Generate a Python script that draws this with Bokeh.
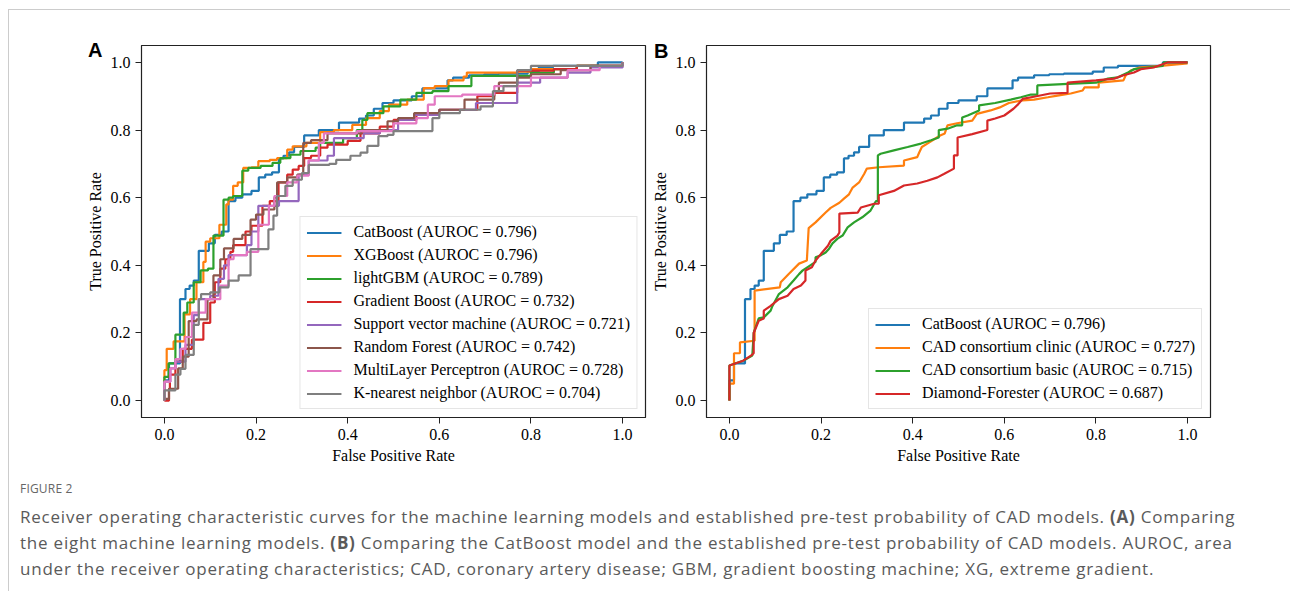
from bokeh.plotting import figure
from bokeh.models import Range1d, FixedTicker, PrintfTickFormatter, Div
from bokeh.layouts import row, column
from bokeh.embed import file_html
from bokeh.resources import INLINE

# ---------------- data: panel A (ROC knots: at fpr f the curve rises to tpr t) ----------------
cat_fpr = [0, 0, 0.01, 0.034, 0.046, 0.055, 0.064, 0.075, 0.097, 0.11, 0.125, 0.14, 0.155, 0.17, 0.19, 0.206,
           0.22, 0.235, 0.25, 0.26, 0.272, 0.283, 0.305, 0.337, 0.381, 0.425, 0.44, 0.457, 0.476, 0.50, 0.54,
           0.563, 0.618, 0.63, 0.665, 0.698, 0.73, 0.793, 0.817, 0.848, 0.946, 1.0]
cat_tpr = [0, 0.06, 0.11, 0.30, 0.33, 0.34, 0.355, 0.443, 0.465, 0.49, 0.50, 0.59, 0.60, 0.61, 0.62, 0.66,
           0.668, 0.675, 0.716, 0.724, 0.734, 0.75, 0.784, 0.80, 0.822, 0.834, 0.843, 0.863, 0.88, 0.888, 0.90,
           0.923, 0.947, 0.955, 0.962, 0.965, 0.967, 0.973, 0.985, 0.99, 1.0, 1.0]

xgb_fpr = [0, 0, 0.005, 0.02, 0.044, 0.056, 0.07, 0.085, 0.09, 0.10, 0.12, 0.135, 0.14, 0.15, 0.16, 0.172,
           0.19, 0.205, 0.23, 0.246, 0.268, 0.28, 0.31, 0.34, 0.37, 0.41, 0.44, 0.47, 0.49, 0.53, 0.566, 0.59,
           0.62, 0.653, 0.66, 0.77, 0.80, 0.90, 1.0]
xgb_tpr = [0, 0.09, 0.153, 0.175, 0.255, 0.30, 0.35, 0.41, 0.47, 0.48, 0.52, 0.58, 0.594, 0.635, 0.645, 0.688,
           0.69, 0.708, 0.712, 0.717, 0.742, 0.752, 0.762, 0.794, 0.80, 0.815, 0.835, 0.856, 0.875, 0.89, 0.924,
           0.93, 0.947, 0.958, 0.97, 0.973, 0.98, 0.99, 1.0]

lgbm_fpr = [0, 0, 0.009, 0.024, 0.042, 0.05, 0.064, 0.079, 0.095, 0.107, 0.129, 0.14, 0.15, 0.17, 0.183, 0.21,
            0.236, 0.253, 0.275, 0.297, 0.33, 0.34, 0.39, 0.42, 0.432, 0.443, 0.478, 0.515, 0.55, 0.585, 0.62,
            0.67, 0.80, 0.85, 0.90, 1.0]
lgbm_tpr = [0, 0.07, 0.11, 0.195, 0.26, 0.29, 0.35, 0.385, 0.39, 0.488, 0.594, 0.60, 0.605, 0.68, 0.688, 0.694,
            0.703, 0.717, 0.727, 0.738, 0.748, 0.762, 0.776, 0.80, 0.83, 0.85, 0.87, 0.89, 0.91, 0.915, 0.93,
            0.96, 0.97, 0.98, 0.99, 1.0]

gb_fpr = [0, 0.01, 0.012, 0.024, 0.04, 0.06, 0.085, 0.10, 0.11, 0.122, 0.133, 0.144, 0.15, 0.177, 0.19, 0.214,
          0.23, 0.249, 0.268, 0.28, 0.293, 0.305, 0.32, 0.34, 0.356, 0.40, 0.428, 0.47, 0.50, 0.55, 0.60, 0.683,
          0.72, 0.77, 0.85, 0.90, 1.0]
gb_tpr = [0, 0.035, 0.077, 0.115, 0.153, 0.18, 0.23, 0.29, 0.35, 0.39, 0.418, 0.44, 0.46, 0.50, 0.517, 0.576,
          0.59, 0.645, 0.668, 0.683, 0.694, 0.717, 0.724, 0.748, 0.757, 0.768, 0.79, 0.81, 0.83, 0.85, 0.86, 0.90,
          0.91, 0.976, 0.98, 0.99, 1.0]

svm_fpr = [0, 0, 0.013, 0.024, 0.046, 0.064, 0.075, 0.10, 0.118, 0.13, 0.14, 0.18, 0.19, 0.205, 0.25, 0.293,
           0.315, 0.356, 0.37, 0.435, 0.47, 0.51, 0.545, 0.60, 0.68, 0.77, 0.82, 0.88, 0.93, 1.0]
svm_tpr = [0, 0.056, 0.095, 0.115, 0.165, 0.253, 0.30, 0.31, 0.36, 0.40, 0.43, 0.46, 0.50, 0.576, 0.59, 0.668,
           0.71, 0.724, 0.776, 0.79, 0.80, 0.83, 0.845, 0.86, 0.88, 0.94, 0.955, 0.97, 0.985, 1.0]

rf_fpr = [0, 0, 0.01, 0.03, 0.04, 0.053, 0.07, 0.094, 0.107, 0.122, 0.13, 0.151, 0.17, 0.188, 0.20, 0.216,
          0.24, 0.246, 0.268, 0.29, 0.303, 0.32, 0.356, 0.43, 0.487, 0.51, 0.545, 0.60, 0.655, 0.72, 0.73, 0.77,
          0.80, 0.865, 0.93, 1.0]
rf_tpr = [0, 0.005, 0.035, 0.095, 0.13, 0.235, 0.24, 0.30, 0.37, 0.418, 0.45, 0.478, 0.49, 0.535, 0.55, 0.565,
          0.60, 0.645, 0.66, 0.668, 0.762, 0.77, 0.79, 0.80, 0.826, 0.835, 0.85, 0.86, 0.89, 0.915, 0.94, 0.955,
          0.965, 0.977, 0.99, 1.0]

mlp_fpr = [0, 0, 0.013, 0.024, 0.035, 0.046, 0.06, 0.09, 0.122, 0.14, 0.151, 0.18, 0.205, 0.228, 0.24, 0.268,
           0.29, 0.315, 0.337, 0.348, 0.42, 0.50, 0.55, 0.575, 0.59, 0.65, 0.72, 0.80, 0.88, 0.95, 1.0]
mlp_tpr = [0, 0.056, 0.095, 0.123, 0.153, 0.188, 0.26, 0.30, 0.34, 0.418, 0.43, 0.44, 0.52, 0.576, 0.605, 0.645,
           0.665, 0.71, 0.762, 0.79, 0.797, 0.82, 0.835, 0.875, 0.90, 0.905, 0.93, 0.955, 0.977, 0.99, 1.0]

knn_fpr = [0, 0, 0.024, 0.035, 0.046, 0.064, 0.075, 0.08, 0.10, 0.12, 0.14, 0.162, 0.188, 0.227, 0.238, 0.246,
           0.264, 0.28, 0.30, 0.315, 0.36, 0.375, 0.406, 0.428, 0.443, 0.467, 0.487, 0.50, 0.585, 0.60, 0.645,
           0.69, 0.717, 0.74, 0.77, 0.80, 1.0]
knn_tpr = [0, 0.03, 0.077, 0.094, 0.135, 0.224, 0.30, 0.315, 0.32, 0.335, 0.355, 0.37, 0.448, 0.506, 0.547, 0.605,
           0.635, 0.653, 0.673, 0.697, 0.70, 0.712, 0.724, 0.733, 0.753, 0.782, 0.786, 0.797, 0.835, 0.85, 0.86,
           0.87, 0.915, 0.93, 0.977, 0.99, 1.0]

names_a = ["CatBoost (AUROC = 0.796)", "XGBoost (AUROC = 0.796)", "lightGBM (AUROC = 0.789)",
           "Gradient Boost (AUROC = 0.732)", "Support vector machine (AUROC = 0.721)",
           "Random Forest (AUROC = 0.742)", "MultiLayer Perceptron (AUROC = 0.728)",
           "K-nearest neighbor (AUROC = 0.704)"]

# ---------------- data: panel B (polyline points) ----------------
clin_fpr = [0, 0, 0.01, 0.01, 0.023, 0.023, 0.055, 0.055, 0.11, 0.112, 0.13, 0.152, 0.169, 0.173, 0.188, 0.21,
            0.221, 0.24, 0.25, 0.261, 0.269, 0.283, 0.294, 0.30, 0.326, 0.381, 0.381, 0.41, 0.414, 0.42, 0.432,
            0.446, 0.46, 0.47, 0.476, 0.497, 0.53, 0.54, 0.57, 0.59, 0.61, 0.64, 0.665, 0.695, 0.716, 0.745,
            0.771, 0.775, 0.806, 0.806, 0.86, 0.865, 0.876, 0.895, 0.941, 1.0]
clin_tpr = [0, 0.05, 0.05, 0.14, 0.14, 0.172, 0.177, 0.325, 0.335, 0.35, 0.375, 0.405, 0.414, 0.51, 0.527, 0.556,
            0.57, 0.585, 0.597, 0.61, 0.63, 0.645, 0.67, 0.686, 0.69, 0.695, 0.71, 0.72, 0.733, 0.75, 0.76,
            0.772, 0.784, 0.79, 0.814, 0.82, 0.828, 0.848, 0.858, 0.867, 0.88, 0.888, 0.89, 0.897, 0.902, 0.908,
            0.917, 0.926, 0.926, 0.94, 0.947, 0.962, 0.976, 0.985, 0.99, 0.997]

basic_fpr = [0, 0, 0.03, 0.05, 0.053, 0.064, 0.075, 0.09, 0.094, 0.108, 0.127, 0.14, 0.152, 0.16, 0.17, 0.188,
             0.188, 0.2, 0.21, 0.218, 0.225, 0.236, 0.247, 0.258, 0.272, 0.29, 0.308, 0.32, 0.324, 0.324, 0.33,
             0.359, 0.389, 0.418, 0.44, 0.457, 0.457, 0.476, 0.497, 0.508, 0.508, 0.52, 0.545, 0.545, 0.58,
             0.614, 0.636, 0.658, 0.672, 0.672, 0.75, 0.80, 0.826, 0.848, 0.87, 0.883, 0.946, 0.948, 1.0]
basic_tpr = [0, 0.104, 0.118, 0.133, 0.2, 0.243, 0.246, 0.266, 0.28, 0.315, 0.335, 0.355, 0.374, 0.385, 0.394,
             0.41, 0.424, 0.43, 0.438, 0.45, 0.465, 0.479, 0.488, 0.512, 0.527, 0.542, 0.562, 0.59, 0.59, 0.725,
             0.73, 0.74, 0.75, 0.76, 0.77, 0.778, 0.80, 0.804, 0.814, 0.814, 0.837, 0.843, 0.858, 0.873, 0.88,
             0.89, 0.897, 0.905, 0.905, 0.932, 0.937, 0.94, 0.952, 0.956, 0.97, 0.98, 0.99, 1.0, 1.0]

df_fpr = [0, 0, 0.03, 0.047, 0.053, 0.053, 0.064, 0.075, 0.075, 0.09, 0.108, 0.127, 0.14, 0.156, 0.166, 0.166,
          0.18, 0.188, 0.2, 0.215, 0.221, 0.236, 0.24, 0.24, 0.28, 0.287, 0.316, 0.326, 0.326, 0.359, 0.381, 0.41,
          0.432, 0.454, 0.468, 0.49, 0.49, 0.498, 0.498, 0.53, 0.563, 0.563, 0.58, 0.60, 0.62, 0.63, 0.64, 0.67,
          0.70, 0.738, 0.738, 0.80, 0.84, 0.86, 0.883, 0.898, 0.926, 0.956, 1.0]
df_tpr = [0, 0.104, 0.118, 0.133, 0.14, 0.2, 0.236, 0.243, 0.266, 0.28, 0.30, 0.31, 0.33, 0.34, 0.355, 0.385,
          0.394, 0.414, 0.434, 0.458, 0.473, 0.488, 0.497, 0.553, 0.556, 0.571, 0.582, 0.582, 0.607, 0.62, 0.636,
          0.642, 0.65, 0.66, 0.67, 0.686, 0.725, 0.725, 0.778, 0.788, 0.80, 0.828, 0.834, 0.843, 0.863, 0.876,
          0.892, 0.90, 0.908, 0.91, 0.94, 0.947, 0.952, 0.962, 0.97, 0.98, 0.985, 1.0, 1.0]

names_b = ["CatBoost (AUROC = 0.796)", "CAD consortium clinic (AUROC = 0.727)",
           "CAD consortium basic (AUROC = 0.715)", "Diamond-Forester (AUROC = 0.687)"]

axis_ticks = [0.0, 0.2, 0.4, 0.6, 0.8, 1.0]
panel_letters = ["A", "B"]

caption_title = "FIGURE 2"
caption_lines = [
    "Receiver operating characteristic curves for the machine learning models and established pre-test "
    "probability of CAD models. <b>(A)</b> Comparing",
    "the eight machine learning models. <b>(B)</b> Comparing the CatBoost model and the established pre-test "
    "probability of CAD models. AUROC, area",
    "under the receiver operating characteristics; CAD, coronary artery disease; GBM, gradient boosting "
    "machine; XG, extreme gradient.",
]

COLORS = ["#1f77b4", "#ff7f0e", "#2ca02c", "#d62728", "#9467bd", "#8c564b", "#e377c2", "#7f7f7f"]
SERIF = "Liberation Serif"
LW = 2.2


def make_fig(width, height, bl, br, bt, bb):
    p = figure(width=width, height=height, output_backend="svg", toolbar_location=None,
               x_range=Range1d(-0.05, 1.05), y_range=Range1d(-0.05, 1.05),
               min_border_left=bl, min_border_right=br, min_border_top=bt, min_border_bottom=bb)
    p.xgrid.visible = False
    p.ygrid.visible = False
    p.outline_line_color = "#222222"
    p.outline_line_width = 1.2
    p.background_fill_color = "white"
    p.border_fill_color = "white"
    for ax in (p.xaxis, p.yaxis):
        ax.ticker = FixedTicker(ticks=axis_ticks)
        ax.formatter = PrintfTickFormatter(format="%.1f")
        ax.major_tick_out = 6
        ax.major_tick_in = 0
        ax.minor_tick_out = 0
        ax.minor_tick_in = 0
        ax.major_tick_line_color = "#222222"
        ax.axis_line_color = "#222222"
        ax.major_label_text_font = SERIF
        ax.major_label_text_font_size = "16px"
        ax.major_label_text_color = "black"
        ax.major_label_standoff = 5
        ax.axis_label_text_font = SERIF
        ax.axis_label_text_font_size = "16px"
        ax.axis_label_text_font_style = "normal"
        ax.axis_label_text_color = "black"
        ax.axis_label_standoff = 4
    p.xaxis.axis_label = "False Positive Rate"
    p.yaxis.axis_label = "True Positive Rate"
    return p


def style_legend(p):
    lg = p.legend[0]
    lg.location = "bottom_right"
    lg.margin = 8
    lg.padding = 6
    lg.spacing = 5
    lg.glyph_width = 35
    lg.glyph_height = 17
    lg.label_height = 17
    lg.label_standoff = 12
    lg.label_text_font = SERIF
    lg.label_text_font_size = "16px"
    lg.label_text_color = "black"
    lg.border_line_color = "#cccccc"
    lg.border_line_width = 1
    lg.background_fill_alpha = 0.8


# ---------------- panel A ----------------
pa = make_fig(639, 461, 132, 3, 33, 54)
series_a = [(cat_fpr, cat_tpr), (xgb_fpr, xgb_tpr), (lgbm_fpr, lgbm_tpr), (gb_fpr, gb_tpr),
            (svm_fpr, svm_tpr), (rf_fpr, rf_tpr), (mlp_fpr, mlp_tpr), (knn_fpr, knn_tpr)]
for (fx, ty), name, col in zip(series_a, names_a, COLORS):
    pa.step(x=fx, y=ty, mode="after", line_width=LW, line_color=col, legend_label=name)
style_legend(pa)

# ---------------- panel B ----------------
pb = make_fig(632, 461, 58, 70, 35, 54)
pb.step(x=cat_fpr, y=cat_tpr, mode="after", line_width=LW, line_color=COLORS[0], legend_label=names_b[0])
pb.line(x=clin_fpr, y=clin_tpr, line_width=LW, line_color=COLORS[1], legend_label=names_b[1])
pb.line(x=basic_fpr, y=basic_tpr, line_width=LW, line_color=COLORS[2], legend_label=names_b[2])
pb.line(x=df_fpr, y=df_tpr, line_width=LW, line_color=COLORS[3], legend_label=names_b[3])
style_legend(pb)

# ---------------- caption (with the panel letters overlaid above it) ----------------
letter_style = ("position:absolute;font-family:'Liberation Sans',Arial,sans-serif;font-weight:bold;"
                "font-size:20px;line-height:20px;color:#000;")
letters_html = (
    '<div style="position:relative;height:0;width:0;">'
    '<span style="' + letter_style + 'left:74px;top:-436px;">' + panel_letters[0] + '</span>'
    '<span style="' + letter_style + 'left:640px;top:-435px;">' + panel_letters[1] + '</span>'
    '</div>'
)
cap_html = (
    letters_html +
    '<div style="font-family:\'Open Sans\',sans-serif;padding-left:6px;">'
    '<div style="font-size:12px;line-height:16px;margin-top:5px;color:#666666;letter-spacing:0.2px;">'
    + caption_title + '</div>'
    '<div style="font-size:17px;line-height:26px;margin-top:7px;color:#5a5a5a;white-space:nowrap;'
    'letter-spacing:0.78px;">'
    + "<br>".join(caption_lines) + '</div></div>'
)
cap = Div(text=cap_html, width=1280, height=110, styles={"overflow": "visible", "z-index": "5"})

layout = column(row(pa, pb), cap,
                styles={"border-top": "1px solid #cccccc", "border-left": "1px solid #cccccc",
                        "margin-left": "8px", "margin-top": "9px"})

open("out.html", "w").write(file_html(layout, INLINE))
